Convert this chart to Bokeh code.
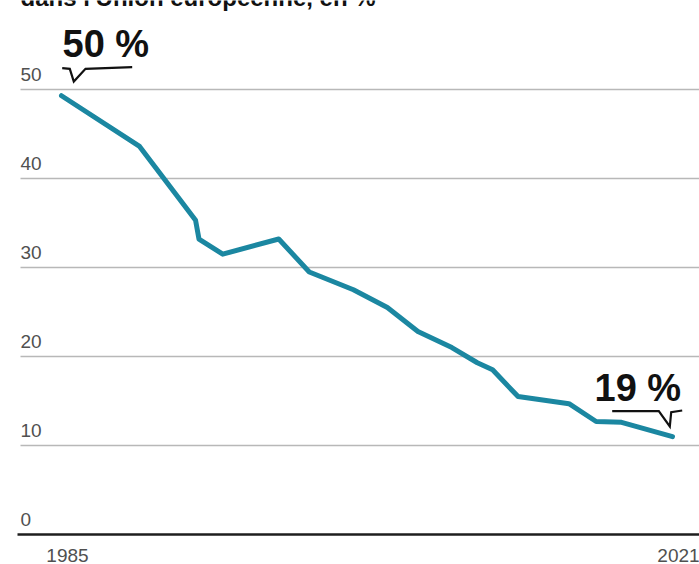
from bokeh.plotting import figure
from bokeh.models import Range1d
from bokeh.embed import file_html
from bokeh.resources import INLINE
from bokeh.core.properties import value

# ---- data ----
years = [1985.0, 1989.6, 1992.9, 1993.1, 1994.5, 1997.8, 1999.6, 2002.2, 2004.2,
         2006.0, 2008.0, 2009.5, 2010.4, 2011.9, 2014.9, 2016.5, 2018.0, 2021.0]
share = [49.3, 43.6, 35.3, 33.2, 31.5, 33.2, 29.5, 27.5, 25.5,
         22.8, 21.0, 19.3, 18.5, 15.5, 14.7, 12.7, 12.6, 11.0]
y_ticks = [0, 10, 20, 30, 40, 50]
y_tick_labels = ["0", "10", "20", "30", "40", "50"]
x_tick_years = [1985, 2021]
x_tick_labels = ["1985", "2021"]
callout_texts = ["50 %", "19 %"]
title_text = "dans l'Union européenne, en %"

# ---- layout ----
W, H = 699, 564
X0_PX, X1_PX = 61.0, 672.0          # screen x of first / last year
PXX = (X1_PX - X0_PX) / (x_tick_years[1] - x_tick_years[0])
Y0_PX = 534.0                        # screen y of value 0
PXY = 8.9                            # pixels per percentage point

x_start = x_tick_years[0] - X0_PX / PXX
x_end = x_start + W / PXX
y_start = -(H - Y0_PX) / PXY
y_end = y_start + H / PXY


def dx(px):
    return x_start + px / PXX


def dy(py):
    return y_start + (H - py) / PXY


FONT = value("Liberation Sans")
LINE_COLOR = "#1b87a1"

p = figure(width=W, height=H,
           x_range=Range1d(x_start, x_end), y_range=Range1d(y_start, y_end),
           x_axis_type=None, y_axis_type=None,
           toolbar_location=None, output_backend="svg",
           min_border=0, outline_line_color=None,
           background_fill_color="white", border_fill_color="white",
           styles={"position": "absolute", "top": "0px", "left": "0px"})

# gridlines
grid_vals = [v for v in y_ticks if v > 0]
p.segment(x0=[dx(20)] * len(grid_vals), y0=grid_vals,
          x1=[x_end] * len(grid_vals), y1=grid_vals,
          line_color="#b8b8b8", line_width=1.5)
# baseline
p.segment(x0=[dx(17)], y0=[0], x1=[x_end], y1=[0],
          line_color="#1e1e1e", line_width=2.5)

# y tick labels (above gridlines)
p.text(x=[dx(20)] * len(y_ticks), y=y_ticks, text=y_tick_labels,
       text_font=FONT, text_font_size="19px", text_color="#505050",
       text_align="left", text_baseline="alphabetic", y_offset=-15)

# x tick labels
p.text(x=x_tick_years, y=[0, 0], text=x_tick_labels,
       text_font=FONT, text_font_size="19px", text_color="#505050",
       text_align="center", text_baseline="alphabetic", x_offset=6, y_offset=21)

# data line
p.line(years, share, line_color=LINE_COLOR, line_width=5, line_join="round", line_cap="round")

# callouts
p.text(x=[dx(62), dx(594)], y=[dy(43), dy(387)], text=callout_texts,
       text_font=FONT, text_font_size="38px", text_font_style="bold",
       text_color="#111111", text_align="left", text_baseline="alphabetic")

c1_px = [(61.7, 67.7), (69.3, 68.3), (73.3, 81.0), (85.0, 68.3), (131.7, 66.7)]
c2_px = [(611.7, 410.7), (658.3, 410.7), (669.3, 426.0), (670.7, 411.7), (681.7, 410.0)]
for pts in (c1_px, c2_px):
    p.line([dx(a) for a, b in pts], [dy(b) for a, b in pts],
           line_color="#111111", line_width=2.2, line_join="miter")

# clipped title (only the bottom of the letters shows)
p.text(x=[dx(20)], y=[dy(-3)], text=[title_text],
       text_font=FONT, text_font_size="24px", text_font_style="bold",
       text_color="#111111", text_align="left", text_baseline="alphabetic")

open("out.html", "w").write(file_html(p, INLINE))
